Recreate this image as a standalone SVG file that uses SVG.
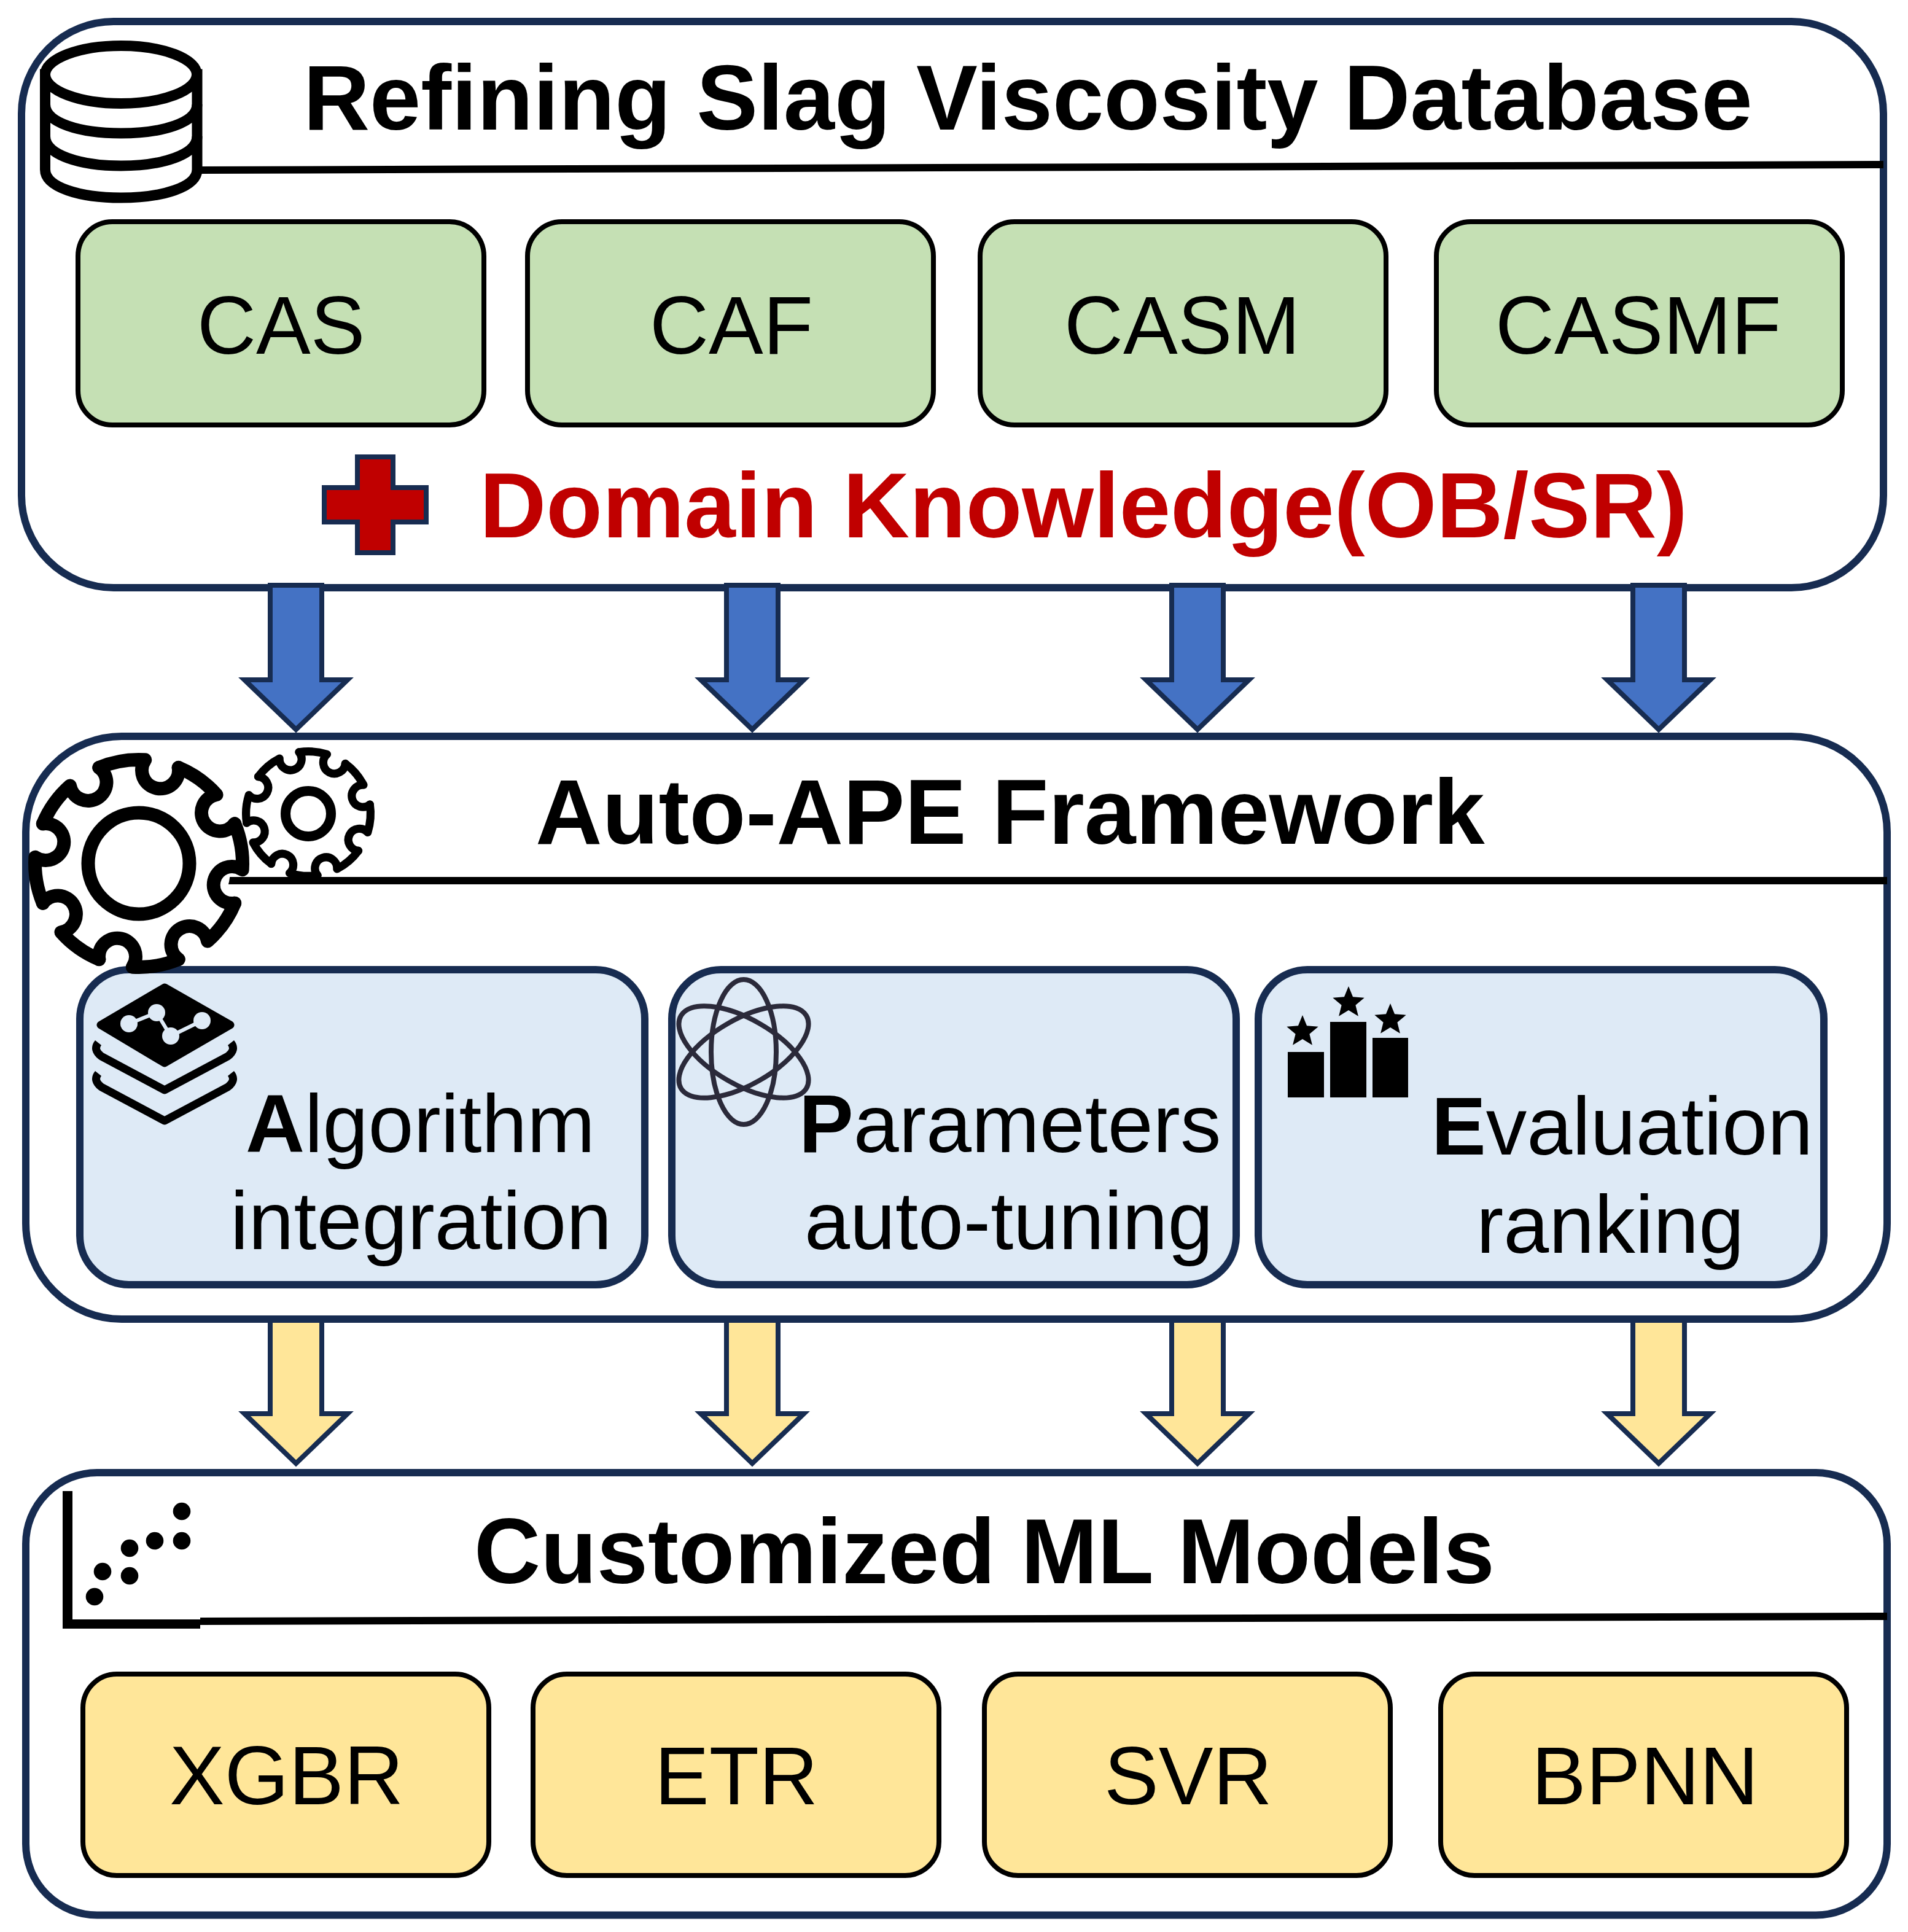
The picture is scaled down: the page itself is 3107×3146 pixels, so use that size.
<svg xmlns="http://www.w3.org/2000/svg" width="3107" height="3146" viewBox="0 0 3107 3146">
<style>
text{font-family:"Liberation Sans",Arial,sans-serif;fill:#000}
.t{font-size:150.4px;font-weight:700}
.l{font-size:133px}
.b{font-weight:700}
.outer{fill:#fff;stroke:#172C51;stroke-width:12}
.g{fill:#C5E0B4;stroke:#000;stroke-width:8}
.y{fill:#FFE699;stroke:#000;stroke-width:8}
.bl{fill:#DEEAF6;stroke:#172C51;stroke-width:12}
.div{stroke:#000;stroke-width:12;fill:none}
.ic{fill:none;stroke:#000;stroke-linejoin:round}
</style>
<defs>
<polygon id="arrowB" points="440,953 524,953 524,1107 566,1107 482,1188 398,1107 440,1107" fill="#4472C4" stroke="#172C51" stroke-width="8"/>
<polygon id="arrowY" points="440,2150 524,2150 524,2302 566,2302 482,2383 398,2302 440,2302" fill="#FFE699" stroke="#172C51" stroke-width="8"/>
<path id="seg" d="M27.9,-166.7 A169,169 0 0 1 98.1,-137.6 A30,30 0 1 0 137.6,-98.1" fill="none" stroke-linecap="round" stroke-linejoin="round"/>
<g id="gear"><use href="#seg"/><use href="#seg" transform="rotate(45)"/><use href="#seg" transform="rotate(90)"/><use href="#seg" transform="rotate(135)"/><use href="#seg" transform="rotate(180)"/><use href="#seg" transform="rotate(225)"/><use href="#seg" transform="rotate(270)"/><use href="#seg" transform="rotate(315)"/></g>
<polygon id="star" points="0,-27 7.05,-9.7 25.7,-8.3 11.4,3.7 15.9,21.8 0,12 -15.9,21.8 -11.4,3.7 -25.7,-8.3 -7.05,-9.7"/>
<clipPath id="smallClip"><rect x="380" y="1200" width="260" height="230"/></clipPath>
</defs>

<g id="database">
<rect class="outer" x="35" y="35" width="3032" height="922" rx="150"/>
<path class="div" d="M325,277 L3067,268"/>
<text class="t" x="494" y="211" style="font-size:149.7px">Refining Slag Viscosity Database</text>
<g id="db-icon" fill="#fff" stroke="#000" stroke-width="17">
<path d="M73.5,121 V276 C73.5,305 130,322 197,322 S321,305 321,276 V121 Z"/>
<path d="M73.5,222 C73.5,252 130,270 197,270 S321,252 321,222" fill="none"/>
<path d="M73.5,170 C73.5,200 130,217 197,217 S321,200 321,170" fill="none"/>
<ellipse cx="197" cy="121.5" rx="123.5" ry="47"/>
</g>
<g id="plus"><polygon points="582,744 640,744 640,794 694,794 694,850 640,850 640,900 582,900 582,850 528,850 528,794 582,794" fill="#C00000" stroke="#172C51" stroke-width="8"/></g>
<text class="t" x="781" y="875" style="fill:#C00000;font-size:150px">Domain Knowledge(OB/SR)</text>
</g>
<g id="node-cas"><rect class="g" x="127" y="361" width="661" height="331" rx="56"/><text class="l" x="321" y="576">CAS</text></g>
<g id="node-caf"><rect class="g" x="859" y="361" width="661" height="331" rx="56"/><text class="l" x="1058" y="576">CAF</text></g>
<g id="node-casm"><rect class="g" x="1596" y="361" width="661" height="331" rx="56"/><text class="l" x="1733" y="576">CASM</text></g>
<g id="node-casmf"><rect class="g" x="2339" y="361" width="661" height="331" rx="56"/><text class="l" x="2435" y="576">CASMF</text></g>

<g id="framework">
<rect class="outer" x="42" y="1199" width="3031" height="949" rx="156"/>
<path class="div" d="M361,1434 H3073"/>
<text class="t" x="872" y="1374">Auto-APE Framework</text>
</g>
<g id="node-algo">
<rect class="bl" x="130" y="1579" width="920" height="513" rx="80"/>
<g id="stack-icon">
<path d="M268,1608 L375,1669 L268,1731 L164,1669 Z" fill="#000" stroke="#000" stroke-width="13" stroke-linejoin="round"/>
<path d="M210,1667 L255,1649 L278,1687 L329,1662" fill="none" stroke="#DEEAF6" stroke-width="6"/>
<circle cx="210" cy="1667" r="14" fill="#DEEAF6"/><circle cx="255" cy="1649" r="14" fill="#DEEAF6"/><circle cx="278" cy="1687" r="14" fill="#DEEAF6"/><circle cx="329" cy="1662" r="14" fill="#DEEAF6"/>
<path class="ic" stroke-width="13" d="M160,1698 Q151,1709 165,1720 L268,1775 L371,1720 Q385,1709 376,1698"/>
<path class="ic" stroke-width="13" d="M160,1748 Q151,1759 165,1770 L268,1825 L371,1770 Q385,1759 376,1748"/>
</g>
<text class="l" x="400" y="1876"><tspan class="b">A</tspan>lgorithm</text>
<text class="l" x="375" y="2034">integration</text>
</g>
<g id="node-params">
<rect class="bl" x="1094" y="1579" width="919" height="513" rx="80"/>
<g id="atom-icon" fill="none" stroke="#2B2A3A" stroke-width="8">
<ellipse cx="1211" cy="1713" rx="53" ry="118"/>
<ellipse cx="1211" cy="1713" rx="53" ry="118" transform="rotate(60 1211 1713)"/>
<ellipse cx="1211" cy="1713" rx="53" ry="118" transform="rotate(-60 1211 1713)"/>
</g>
<text class="l" x="1301" y="1876"><tspan class="b">P</tspan>arameters</text>
<text class="l" x="1310" y="2034">auto-tuning</text>
</g>
<g id="node-eval">
<rect class="bl" x="2049" y="1579" width="921" height="513" rx="80"/>
<g id="rank-icon">
<rect x="2097" y="1713" width="59" height="74"/><rect x="2166" y="1664" width="59" height="123"/><rect x="2235" y="1690" width="58" height="97"/>
<use href="#star" transform="translate(2121 1680)"/><use href="#star" transform="translate(2196 1633)"/><use href="#star" transform="translate(2264 1661)"/>
</g>
<text class="l" x="2331" y="1880"><tspan class="b">E</tspan>valuation</text>
<text class="l" x="2404" y="2040">ranking</text>
</g>
<g id="gears-icon">
<circle cx="226" cy="1406" r="150" fill="#fff"/>
<g transform="translate(226 1406) rotate(13)" stroke="#000" stroke-width="22"><use href="#gear"/></g>
<circle cx="226" cy="1406" r="82.5" fill="none" stroke="#000" stroke-width="22"/>
<g clip-path="url(#smallClip)">
<g transform="translate(502 1325) rotate(27) scale(.6)" stroke="#000" stroke-width="22"><use href="#gear"/></g>
</g>
<circle cx="502" cy="1325" r="37" fill="none" stroke="#000" stroke-width="16"/>
</g>

<g id="models">
<rect class="outer" x="42" y="2398" width="3031" height="720.5" rx="116"/>
<path class="div" d="M326,2640 L3073,2632"/>
<g id="scatter-icon">
<path d="M102,2428 H118 V2637 H326 V2652 H102 Z"/>
<circle cx="296" cy="2461" r="14.3"/><circle cx="296" cy="2509" r="14.3"/><circle cx="252" cy="2509" r="14.3"/><circle cx="211" cy="2521" r="14.3"/><circle cx="167" cy="2559" r="14.3"/><circle cx="211" cy="2566" r="14.3"/><circle cx="154" cy="2600" r="14.3"/>
</g>
<text class="t" x="772" y="2578" style="font-size:149.8px">Customized ML Models</text>
</g>
<g id="node-xgbr"><rect class="y" x="135" y="2726" width="661" height="328" rx="55"/><text class="l" x="276" y="2938" style="font-size:134.5px">XGBR</text></g>
<g id="node-etr"><rect class="y" x="868" y="2726" width="661" height="328" rx="55"/><text class="l" x="1066" y="2938">ETR</text></g>
<g id="node-svr"><rect class="y" x="1603" y="2726" width="661" height="328" rx="55"/><text class="l" x="1798" y="2938">SVR</text></g>
<g id="node-bpnn"><rect class="y" x="2346" y="2726" width="661" height="328" rx="55"/><text class="l" x="2494" y="2938">BPNN</text></g>

<g id="connectors">
<use href="#arrowB"/><use href="#arrowB" transform="translate(743 0)"/><use href="#arrowB" transform="translate(1468 0)"/><use href="#arrowB" transform="translate(2219 0)"/>
<use href="#arrowY"/><use href="#arrowY" transform="translate(743 0)"/><use href="#arrowY" transform="translate(1468 0)"/><use href="#arrowY" transform="translate(2219 0)"/>
</g>
</svg>
